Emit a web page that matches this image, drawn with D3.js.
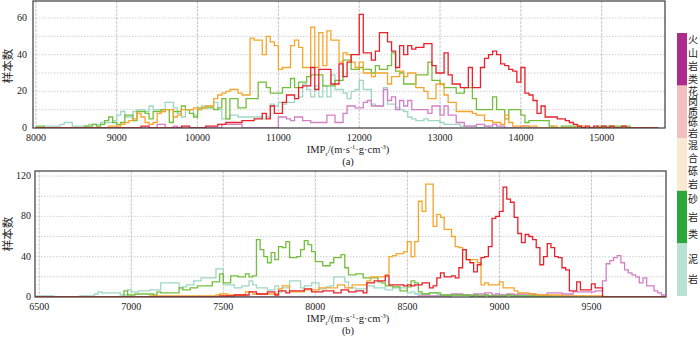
<!DOCTYPE html>
<html>
<head>
<meta charset="utf-8">
<script src="https://cdn.jsdelivr.net/npm/d3@7"></script>
<style>
  body { margin: 0; background: #fff; }
  svg { display: block; font-family: "Liberation Serif", "Times New Roman", serif; }
</style>
</head>
<body>
<div id="chart"></div>
<script>
// ---- data: top panel (a), bins of 50 starting at 8000 ----
const topStart = 8000, topStep = 50;
const topXTicks = [8000, 9000, 10000, 11000, 12000, 13000, 14000, 15000];
const topYTicks = [0, 20, 40, 60];
const topYGrid = [10, 20, 30, 40, 50, 60];

const topMudstone = [
  0,0,1,1,1,1,2,3,3,1,  1,1,1,2,2,2,3,3,3,4,
  7,9,6,6,9,10,10,9,12,10,  10,9,14,14,11,8,6,10,10,7,
  10,12,12,12,14,10,5,5,7,7,  6,6,6,6,6,6,5,6,13,12,
  14,13,14,14,16,17,24,21,17,23,  17,23,17,29,21,21,19,16,20,21,
  26,21,21,13,12,12,22,13,13,11,  10,9,6,5,4,4,5,4,4,4,
  3,2,2,2,2,1,1,1,1,0,  0,1,0,0,0,0,0,0,0,0,
  0,0,0,0,0,0,0,0,0,0,  0,0,0,0,0,0,0,0,0,0,
  0,0,0,0,0,0,0,0,0,0,  0,0,0,0
];
const topSandstone = [
  1,1,0,0,0,0,0,0,0,0,  0,0,1,1,2,1,2,4,6,3,
  2,3,7,7,4,9,9,8,5,9,  9,10,10,3,9,9,12,10,8,6,
  11,11,11,11,10,11,16,5,16,16,  11,11,16,16,16,25,25,22,19,19,
  19,22,22,27,22,25,25,28,29,29,  29,23,23,23,26,26,37,37,32,32,
  33,32,32,30,34,32,32,34,41,31,  30,24,24,24,29,29,29,36,26,26,
  24,22,22,22,19,19,22,22,16,10,  10,10,10,17,10,10,5,10,10,10,
  7,3,4,4,4,4,4,1,0,0,  1,1,1,1,1,0,0,0,0,1,
  1,1,1,1,1,1,1,0,0,0,  0,0,0,0
];
const topMixedConglomerate = [
  0,0,0,0,0,0,0,0,0,0,  0,0,0,0,0,0,0,0,1,1,
  1,2,3,4,5,8,6,3,2,3,  8,9,10,10,6,7,10,10,10,11,
  10,11,12,12,16,18,19,20,21,21,  19,18,18,49,48,48,40,50,47,45,
  32,33,33,45,48,44,33,33,55,33,  52,34,53,48,48,36,41,40,36,33,
  36,30,30,28,30,30,30,24,28,28,  31,28,30,30,22,22,20,16,16,24,
  24,18,14,14,9,9,9,9,8,7,  7,4,4,3,3,2,7,3,1,1,
  1,1,1,1,0,0,0,0,1,0,  0,0,0,0,1,1,0,0,0,0,
  0,0,0,0,0,0,0,0,0,0,  0,0,0,0
];
const topGraniticConglomerate = [
  0,0,0,0,0,0,0,0,0,0,  0,0,0,0,0,0,0,0,0,0,
  0,0,0,0,0,0,1,1,0,0,  0,0,0,0,0,0,1,1,0,0,
  0,0,1,1,1,2,2,3,3,3,  3,4,4,4,5,5,8,5,12,8,
  8,14,18,18,16,22,23,23,33,21,  32,32,32,24,24,35,28,36,40,40,
  62,41,41,37,42,52,52,47,42,33,  45,40,45,43,44,44,46,46,34,30,
  30,41,29,24,24,22,22,33,22,22,  33,38,40,42,40,35,34,32,31,25,
  33,19,18,15,8,12,6,6,6,5,  5,4,3,2,1,0,1,0,1,0,
  1,0,1,0,0,1,0,0,0,0,  0,0,0,0
];
const topVolcanic = [
  0,0,0,0,0,0,0,0,0,0,  0,0,0,0,0,0,0,0,0,0,
  0,0,0,0,0,0,0,0,0,0,  2,2,0,0,1,0,0,0,0,0,
  0,0,0,0,0,0,2,2,2,2,  2,0,0,0,0,0,0,0,0,0,
  6,6,5,4,6,6,4,4,3,3,  3,3,7,7,3,3,8,12,12,11,
  11,14,15,12,12,12,21,15,17,10,  15,12,15,10,10,10,10,8,12,12,
  7,12,7,7,3,3,1,1,1,2,  2,1,1,2,1,1,0,0,0,0,
  1,1,0,0,0,0,0,0,0,0,  0,0,0,0,0,0,0,0,0,0,
  0,0,0,0,0,0,0,0,0,0,  0,0,0,0
];

// ---- data: bottom panel (b), bins of 20 starting at 6480 ----
const botStart = 6480, botStep = 20;
const botXTicks = [6500, 7000, 7500, 8000, 8500, 9000, 9500];
const botYTicks = [0, 40, 80, 120];
const botYGrid = [20, 40, 60, 80, 100, 120];

const botMudstone = [
  1,
  1,1,1,1,0,  0,0,0,0,0,  0,1,1,1,1,  3,5,4,4,4,  4,4,2,2,7,
  5,5,6,6,6,  7,7,7,14,14,  14,14,14,9,10,  12,12,16,16,19,  19,19,19,28,28,
  12,12,12,9,9,  11,11,16,12,9,  9,9,7,7,11,  5,9,9,16,16,  16,9,11,11,14,
  14,8,8,10,11,  20,20,20,15,9,  9,8,8,8,11,  11,9,9,9,7,  7,9,9,9,9,
  4,5,3,3,3,  3,4,4,3,2,  2,2,2,2,2,  2,2,1,1,1,  1,2,1,1,2,
  2,2,2,2,2,  2,2,1,2,1,  1,1,1,1,1,  1,1,1,1,1,  1,0,1,0,0,
  0,0,0,0,0,  0,0,0,0,0,  0,0,0,0,0,  0,0,0,0,0
];
const botSandstone = [
  0,
  0,0,0,0,0,  0,0,0,0,0,  0,0,0,0,0,  0,0,0,0,0,  0,0,0,6,2,
  2,3,3,3,3,  3,2,5,4,4,  4,4,4,9,7,  7,9,9,11,11,  11,11,15,15,23,
  14,14,21,21,20,  20,23,20,21,57,  47,40,34,44,37,  50,49,55,39,39,  40,47,56,52,45,
  35,35,31,31,34,  39,39,42,29,22,  22,23,23,19,19,  19,19,15,14,11,  11,10,10,6,6,
  10,16,14,5,3,  3,4,4,4,2,  2,2,2,2,2,  2,2,1,2,1,  1,2,1,1,1,
  1,1,2,1,1,  1,1,1,1,1,  1,1,0,1,0,  0,0,0,0,0,  0,0,0,0,0,
  0,0,0,0,0,  0,0,0,0,0,  0,0,0,0,0,  0,0,0,0,0
];
const botMixedConglomerate = [
  0,
  0,0,0,0,0,  0,0,0,0,0,  0,0,0,0,0,  0,0,0,0,0,  0,0,0,0,0,
  0,0,0,0,0,  1,1,1,1,1,  1,1,1,1,1,  1,1,1,1,1,  1,1,1,2,3,
  3,2,2,2,2,  2,5,5,3,3,  3,3,3,3,3,  8,11,11,5,5,  5,5,7,7,7,
  7,9,9,9,9,  9,12,12,9,9,  12,12,12,12,16,  20,20,20,20,22,  40,41,43,43,45,
  55,40,55,95,85,  112,112,70,82,79,  67,67,60,50,49,  47,37,37,37,34,  12,14,12,12,12,
  15,9,9,9,6,  4,4,4,3,3,  2,2,2,2,2,  2,2,1,1,1,  1,1,1,1,1,
  1,1,1,0,0,  0,0,0,0,0,  0,0,0,0,0,  0,0,0,0,0
];
const botGraniticConglomerate = [
  0,
  0,0,0,0,0,  0,0,0,0,0,  0,0,0,0,0,  0,0,0,0,0,  0,0,0,0,0,
  0,0,0,0,0,  0,0,0,0,0,  0,0,0,0,0,  0,0,0,0,0,  0,0,0,0,1,
  1,1,1,2,2,  2,2,5,5,3,  3,3,5,5,2,  6,6,4,6,6,  6,6,8,8,5,
  5,5,6,6,6,  4,4,7,7,5,  5,6,6,4,14,  14,16,16,16,21,  12,12,12,12,11,
  12,11,12,12,14,  14,9,11,19,24,  20,20,21,19,29,  47,37,34,25,32,  39,40,50,78,80,
  85,109,97,94,79,  63,54,62,60,57,  49,32,40,53,49,  40,39,29,27,6,  6,15,7,7,7,
  13,9,9,0,0,  0,0,0,0,0,  0,0,0,0,0,  0,0,0,0,0
];
const botVolcanic = [
  0,
  0,0,0,0,0,  0,0,0,0,0,  0,0,0,0,0,  0,0,0,0,0,  0,0,0,0,0,
  0,0,0,0,0,  0,0,0,0,0,  0,0,0,0,0,  0,0,0,0,0,  0,0,0,0,0,
  0,0,0,0,0,  0,0,0,0,0,  0,0,0,0,0,  0,0,0,0,0,  0,0,0,0,0,
  0,0,0,0,0,  0,0,0,0,0,  0,0,0,0,0,  0,0,0,0,0,  0,0,0,0,0,
  0,0,0,1,1,  1,1,1,1,1,  1,1,3,3,3,  2,2,2,3,3,  3,4,4,2,3,
  2,2,3,3,2,  3,3,3,3,3,  2,2,2,4,4,  4,4,3,3,3,  5,5,5,5,5,
  5,6,6,16,33,  36,39,41,34,27,  24,22,20,14,19,  11,11,6,4,2
];

// legend (top to bottom)
const legendLabels = ['火山岩类', '花岗质砾岩', '混合砾岩', '砂岩类', '泥岩'];

// ---- styles ----
const lineColor = {
  '泥岩': '#9fd8c4',
  '火山岩类': '#d37fc6',
  '砂岩类': '#74be3c',
  '混合砾岩': '#f6a52b',
  '花岗质砾岩': '#e8212b'
};
const swatchColor = {
  '火山岩类': '#ad2b8c',
  '花岗质砾岩': '#f2bfbf',
  '混合砾岩': '#fbe8d0',
  '砂岩类': '#2ba83b',
  '泥岩': '#b9e2d4'
};

const svg = d3.select('#chart')
  .append('svg')
  .attr('width', 700)
  .attr('height', 337);

function drawPanel(cfg) {
  const x = d3.scaleLinear().domain(cfg.xDomain).range([cfg.left, cfg.right]);
  const y = d3.scaleLinear().domain(cfg.yDomain).range([cfg.bottom, cfg.top]);
  const g = svg.append('g');

  const clipId = 'clip-' + cfg.id;
  svg.append('clipPath').attr('id', clipId)
    .append('rect')
    .attr('x', cfg.left).attr('y', cfg.top)
    .attr('width', cfg.right - cfg.left).attr('height', cfg.bottom - cfg.top);

  // horizontal dotted grid
  g.selectAll('.hgrid')
    .data(cfg.yGrid)
    .enter().append('line')
    .attr('x1', cfg.left).attr('x2', cfg.right)
    .attr('y1', d => y(d)).attr('y2', d => y(d))
    .attr('stroke', '#c4c4c4')
    .attr('stroke-width', 0.8)
    .attr('stroke-dasharray', '1.5,1.5');

  // vertical grid at major ticks
  g.selectAll('.vgrid')
    .data(cfg.xTicks)
    .enter().append('line')
    .attr('x1', d => x(d)).attr('x2', d => x(d))
    .attr('y1', cfg.top).attr('y2', cfg.bottom)
    .attr('stroke', '#c8c8c8')
    .attr('stroke-width', 1)
    .attr('stroke-dasharray', '3,1');

  // step-histogram outlines
  const line = d3.line()
    .x(d => x(d[0]))
    .y(d => y(d[1]))
    .curve(d3.curveStepAfter);

  const lines = g.append('g').attr('clip-path', `url(#${clipId})`);
  cfg.series.forEach(s => {
    const pts = s.values.map((v, i) => [cfg.start + i * cfg.step, v]);
    pts.push([cfg.start + s.values.length * cfg.step, s.values[s.values.length - 1]]);
    lines.append('path')
      .attr('d', line(pts))
      .attr('fill', 'none')
      .attr('stroke', lineColor[s.name])
      .attr('stroke-width', 1.3)
      .attr('stroke-linejoin', 'miter');
  });

  // frame
  g.append('rect')
    .attr('x', cfg.left).attr('y', cfg.top)
    .attr('width', cfg.right - cfg.left).attr('height', cfg.bottom - cfg.top)
    .attr('fill', 'none')
    .attr('stroke', '#3a3a3a')
    .attr('stroke-width', 1.2);

  // x tick labels
  g.selectAll('.xt')
    .data(cfg.xTicks)
    .enter().append('text')
    .attr('x', d => x(d))
    .attr('y', cfg.bottom + 13)
    .attr('text-anchor', 'middle')
    .style('font-size', '10px')
    .attr('fill', '#222')
    .text(d => d);

  // y tick labels
  g.selectAll('.yt')
    .data(cfg.yTicks)
    .enter().append('text')
    .attr('x', cfg.yLabelX)
    .attr('y', d => y(d) + 3)
    .attr('text-anchor', 'end')
    .style('font-size', '10px')
    .attr('fill', '#222')
    .text(d => d);

  // y axis title
  g.append('text')
    .attr('transform', `translate(12,${cfg.yTitleY}) rotate(-90)`)
    .attr('text-anchor', 'middle')
    .style('font-family', '"Noto Sans CJK SC", sans-serif')
    .style('font-size', '11.5px')
    .attr('fill', '#222')
    .text('样本数');

  // x axis title: IMP_r/(m·s^-1·g·cm^-3)
  const t = g.append('text')
    .attr('x', 348)
    .attr('y', cfg.xTitleY)
    .attr('text-anchor', 'middle')
    .style('font-size', '10.5px')
    .attr('fill', '#222');
  t.append('tspan').text('IMP');
  t.append('tspan').attr('dy', 2.5).style('font-size', '7px').text('r');
  t.append('tspan').attr('dy', -2.5).text('/(m·s');
  t.append('tspan').attr('dy', -4).style('font-size', '6.5px').text('-1');
  t.append('tspan').attr('dy', 4).text('·g·cm');
  t.append('tspan').attr('dy', -4).style('font-size', '6.5px').text('-3');
  t.append('tspan').attr('dy', 4).text(')');

  g.append('text')
    .attr('x', 348)
    .attr('y', cfg.xTitleY + 12)
    .attr('text-anchor', 'middle')
    .style('font-size', '10.5px')
    .attr('fill', '#222')
    .text(cfg.caption);
}

drawPanel({
  id: 'a',
  left: 33, right: 665, top: 1, bottom: 128,
  xDomain: [7964, 15783], yDomain: [0, 69.3],
  start: topStart, step: topStep,
  xTicks: topXTicks, yTicks: topYTicks, yGrid: topYGrid,
  yLabelX: 27, yTitleY: 66, xTitleY: 153, caption: '(a)',
  series: [
    { name: '泥岩', values: topMudstone },
    { name: '火山岩类', values: topVolcanic },
    { name: '砂岩类', values: topSandstone },
    { name: '混合砾岩', values: topMixedConglomerate },
    { name: '花岗质砾岩', values: topGraniticConglomerate }
  ]
});

drawPanel({
  id: 'b',
  left: 35, right: 666, top: 171, bottom: 297,
  xDomain: [6477, 9905], yDomain: [0, 125],
  start: botStart, step: botStep,
  xTicks: botXTicks, yTicks: botYTicks, yGrid: botYGrid,
  yLabelX: 31, yTitleY: 234, xTitleY: 322, caption: '(b)',
  series: [
    { name: '泥岩', values: botMudstone },
    { name: '火山岩类', values: botVolcanic },
    { name: '砂岩类', values: botSandstone },
    { name: '混合砾岩', values: botMixedConglomerate },
    { name: '花岗质砾岩', values: botGraniticConglomerate }
  ]
});

// legend: colour bar with vertical labels (one vertical text per label)
const band = d3.scaleBand().domain(legendLabels).range([33, 296]).paddingInner(0);
const legend = svg.append('g');
const fs = 10;
legendLabels.forEach(name => {
  const y0 = band(name), h = band.bandwidth();
  legend.append('rect')
    .attr('x', 677).attr('y', y0)
    .attr('width', 10).attr('height', h)
    .attr('fill', swatchColor[name]);
  const n = Array.from(name).length;
  const gap = Math.min(h / n, 20);
  const spacing = Math.max(gap - fs, 0);
  legend.append('text')
    .attr('x', 693)
    .attr('y', y0 + h / 2 + spacing / 2)
    .attr('text-anchor', 'middle')
    .style('writing-mode', 'vertical-rl')
    .style('text-orientation', 'upright')
    .style('letter-spacing', spacing + 'px')
    .style('font-family', '"Noto Sans CJK SC", sans-serif')
    .style('font-size', fs + 'px')
    .attr('fill', '#222')
    .text(name);
});
</script>
</body>
</html>
